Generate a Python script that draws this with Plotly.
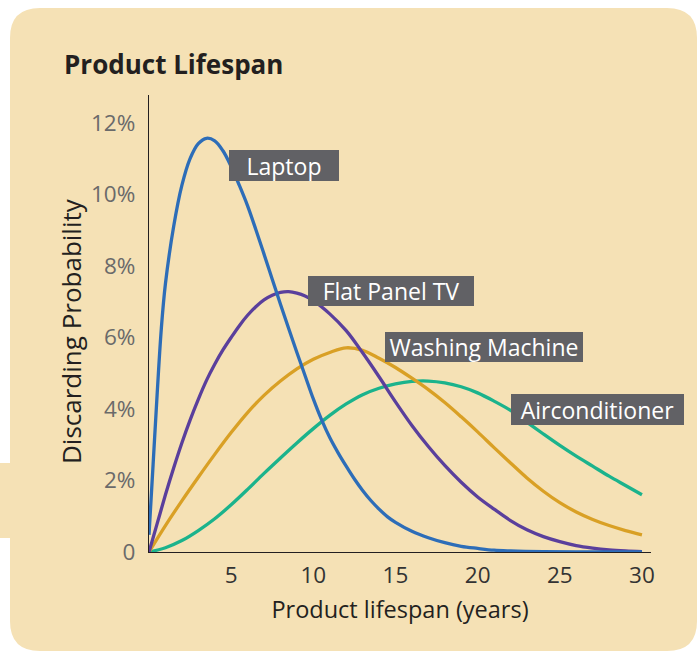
import plotly.graph_objects as go

# ---- data ----
laptop_x = [0, 0.25, 0.5, 0.75, 1.0, 1.5, 2, 2.5, 3, 3.5, 4, 4.5, 5, 5.5, 6, 6.5, 7, 7.5, 8, 8.5,
            9, 9.5, 10, 10.5, 11, 11.5, 12, 12.5, 13, 13.5, 14, 14.5, 15, 16, 17, 18, 19, 20, 21, 22,
            24, 27, 30]
laptop_y = [0.48, 2.45, 4.45, 6.25, 7.5, 9.1, 10.25, 11.0, 11.42, 11.57, 11.5, 11.22, 10.78, 10.25,
            9.68, 9.02, 8.33, 7.63, 6.93, 6.25, 5.58, 4.93, 4.28, 3.7, 3.2, 2.78, 2.4, 2.04, 1.72,
            1.44, 1.2, 0.99, 0.83, 0.58, 0.4, 0.26, 0.16, 0.1, 0.05, 0.03, 0.01, 0.0, 0.0]

tv_x = [0, 0.5, 1, 1.5, 2, 2.5, 3, 3.5, 4, 4.5, 5, 5.5, 6, 6.5, 7, 7.5, 8, 8.5, 9, 9.5, 10,
        11, 12, 13, 14, 15, 16, 17, 18, 19, 20, 21, 22, 23, 24, 25, 26, 27, 28, 29, 30]
tv_y = [0, 0.8, 1.6, 2.35, 3.05, 3.69, 4.27, 4.8, 5.25, 5.65, 6.0, 6.33, 6.62, 6.86, 7.05, 7.18,
        7.26, 7.28, 7.24, 7.16, 7.03, 6.66, 6.19, 5.57, 4.9, 4.2, 3.54, 2.95, 2.42, 1.95, 1.54,
        1.2, 0.88, 0.62, 0.43, 0.29, 0.18, 0.11, 0.06, 0.03, 0.01]

wm_x = list(range(0, 31))
wm_y = [0, 0.74, 1.43, 2.09, 2.73, 3.34, 3.9, 4.38, 4.78, 5.12, 5.39, 5.58, 5.71, 5.64, 5.42,
        5.16, 4.86, 4.54, 4.18, 3.78, 3.36, 2.92, 2.49, 2.07, 1.7, 1.38, 1.12, 0.91, 0.74, 0.6, 0.48]

ac_x = list(range(0, 31))
ac_y = [0, 0.12, 0.32, 0.6, 0.93, 1.32, 1.75, 2.2, 2.63, 3.05, 3.45, 3.82, 4.14, 4.4, 4.58, 4.7,
        4.77, 4.78, 4.73, 4.62, 4.45, 4.22, 3.96, 3.63, 3.3, 2.98, 2.68, 2.4, 2.12, 1.86, 1.6]

series_names = ["Laptop", "Flat Panel TV", "Washing Machine", "Airconditioner"]
colors = ["#2D6DB8", "#5A3F9C", "#D9A025", "#1BB38C"]

y_tickvals = [0, 2, 4, 6, 8, 10, 12]
y_ticktext = ["0", "2%", "4%", "6%", "8%", "10%", "12%"]
x_tickvals = [5, 10, 15, 20, 25, 30]

# ---- layout geometry (pixels) ----
W, H = 699, 653
L, R, T, B = 149, 48, 95, 101
PW, PH = W - L - R, H - T - B


def xp(px):
    return (px - L) / PW


def yp(py):
    return (H - B - py) / PH


def rounded_rect(x0, y0, x1, y1, r):
    pts = [
        f"M {xp(x0 + r)} {yp(y0)}",
        f"L {xp(x1 - r)} {yp(y0)}",
        f"Q {xp(x1)} {yp(y0)} {xp(x1)} {yp(y0 + r)}",
        f"L {xp(x1)} {yp(y1 - r)}",
        f"Q {xp(x1)} {yp(y1)} {xp(x1 - r)} {yp(y1)}",
        f"L {xp(x0 + r)} {yp(y1)}",
        f"Q {xp(x0)} {yp(y1)} {xp(x0)} {yp(y1 - r)}",
        f"L {xp(x0)} {yp(y0 + r)}",
        f"Q {xp(x0)} {yp(y0)} {xp(x0 + r)} {yp(y0)}",
        "Z",
    ]
    return " ".join(pts)


BG = "#F5E1B5"

fig = go.Figure()
data = [(laptop_x, laptop_y), (tv_x, tv_y), (wm_x, wm_y), (ac_x, ac_y)]
for i in [3, 2, 1, 0]:
    xs, ys = data[i]
    fig.add_trace(go.Scatter(x=xs, y=ys, mode="lines", name=series_names[i],
                             line=dict(color=colors[i], width=3.3, shape="spline", smoothing=1.0),
                             showlegend=False, hoverinfo="x+y"))

shapes = [
    dict(type="path", xref="paper", yref="paper", path=rounded_rect(10, 8, 697, 651, 30),
         fillcolor=BG, line=dict(width=0), layer="below"),
    dict(type="rect", xref="paper", yref="paper", x0=xp(0), x1=xp(14), y0=yp(463), y1=yp(538),
         fillcolor=BG, line=dict(width=0), layer="below"),
]

# label boxes (pixel boxes)
label_boxes = [(229, 150, 340, 182), (308, 276, 475, 307), (385, 332, 584, 363), (511, 394, 685, 426)]
annotations = []
for name, (bx0, by0, bx1, by1) in zip(series_names, label_boxes):
    annotations.append(dict(
        xref="paper", yref="paper", x=xp(bx0), y=yp(by0), xanchor="left", yanchor="top",
        text=name, showarrow=False, width=bx1 - bx0 - 1, height=by1 - by0 - 1, align="center",
        valign="middle", bgcolor="#616165", borderpad=0, borderwidth=0,
        font=dict(family="Open Sans", size=23, color="#FFFFFF")))

annotations.append(dict(
    xref="paper", yref="paper", x=xp(62), y=yp(64), xanchor="left", yanchor="middle",
    text="<b>Product Lifespan</b>", showarrow=False,
    font=dict(family="Open Sans", size=26, color="#231F20")))

annotations.append(dict(
    xref="paper", yref="paper", x=xp(71), y=yp(331), xanchor="center", yanchor="middle",
    text="Discarding Probability", textangle=-90, showarrow=False,
    font=dict(family="Open Sans", size=26, color="#231F20")))

fig.update_layout(
    width=W, height=H,
    margin=dict(l=L, r=R, t=T, b=B),
    paper_bgcolor="#FFFFFF",
    plot_bgcolor="rgba(0,0,0,0)",
    font=dict(family="Open Sans", color="#231F20"),
    shapes=shapes,
    annotations=annotations,
    xaxis=dict(range=[0, 30.55], tickvals=x_tickvals, showgrid=False, zeroline=False,
               showline=True, linecolor="#231F20", linewidth=1.3,
               ticks="outside", ticklen=3, tickcolor="rgba(0,0,0,0)",
               tickfont=dict(size=22.5, color="#333333"),
               title=dict(text="Product lifespan (years)", font=dict(size=23.5, color="#231F20"), standoff=12)),
    yaxis=dict(range=[0, 12.78], tickvals=y_tickvals, ticktext=y_ticktext, showgrid=False,
               zeroline=False, showline=True, linecolor="#231F20", linewidth=1.3,
               ticks="outside", ticklen=8, tickcolor="rgba(0,0,0,0)",
               tickfont=dict(size=22.5, color="#6A6A6A")),
)

fig.write_html("out.html", config={"displayModeBar": False},
               post_script="document.body.style.margin='0px';")
